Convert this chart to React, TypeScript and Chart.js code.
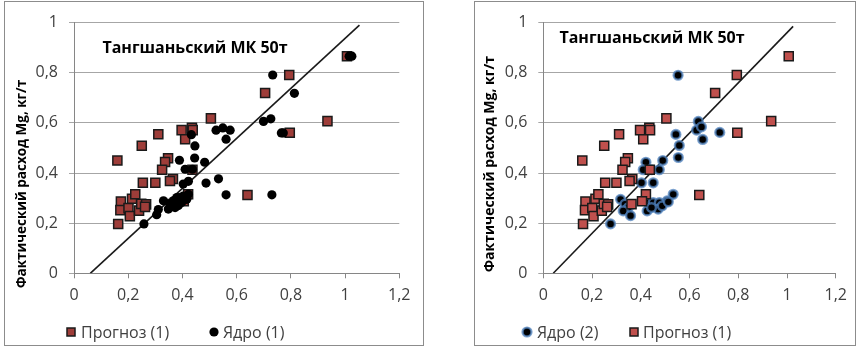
import React, { useEffect, useRef } from 'react';
import { Chart, registerables } from 'chart.js';

Chart.register(...registerables);

// ---------- text ----------
const chartTitle = 'Тангшаньский МК 50т';
const yAxisTitle = 'Фактический расход Mg, кг/т';
const xTickLabels = ['0', '0,2', '0,4', '0,6', '0,8', '1', '1,2'];
const yTickLabels = ['0', '0,2', '0,4', '0,6', '0,8', '1'];

// ---------- series: Прогноз (1) (same on both panels) ----------
const forecastLabel = 'Прогноз (1)';
const forecastX = [0.160, 0.250, 0.311, 0.397, 0.435, 0.438, 0.410, 0.505, 0.705, 0.794, 1.007, 0.935, 0.796, 0.640, 0.347, 0.336, 0.325, 0.254, 0.300, 0.365, 0.354, 0.437, 0.421, 0.405, 0.362, 0.163, 0.173, 0.171, 0.201, 0.206, 0.214, 0.226, 0.240, 0.248, 0.266, 0.262];
const forecastY = [0.450, 0.509, 0.555, 0.571, 0.580, 0.571, 0.535, 0.618, 0.719, 0.791, 0.866, 0.607, 0.561, 0.312, 0.459, 0.444, 0.413, 0.361, 0.361, 0.376, 0.368, 0.413, 0.315, 0.287, 0.276, 0.197, 0.286, 0.252, 0.260, 0.228, 0.297, 0.315, 0.250, 0.277, 0.275, 0.265];

// ---------- series: Ядро (1) (left panel) ----------
const core1Label = 'Ядро (1)';
const core1X = [0.733, 0.813, 1.015, 1.025, 0.699, 0.726, 0.772, 0.765, 0.730, 0.561, 0.533, 0.487, 0.482, 0.524, 0.549, 0.576, 0.561, 0.446, 0.433, 0.445, 0.389, 0.410, 0.437, 0.403, 0.422, 0.422, 0.258, 0.305, 0.311, 0.330, 0.348, 0.354, 0.366, 0.373, 0.379, 0.391, 0.397, 0.403, 0.416, 0.360, 0.385];
const core1Y = [0.791, 0.718, 0.866, 0.866, 0.606, 0.616, 0.560, 0.560, 0.313, 0.313, 0.377, 0.360, 0.443, 0.571, 0.580, 0.571, 0.535, 0.508, 0.553, 0.460, 0.451, 0.415, 0.415, 0.356, 0.367, 0.315, 0.197, 0.234, 0.254, 0.289, 0.256, 0.276, 0.289, 0.262, 0.302, 0.302, 0.282, 0.308, 0.295, 0.265, 0.270];

// ---------- series: Ядро (2) (right panel) ----------
const core2Label = 'Ядро (2)';
const core2X = [0.553, 0.636, 0.629, 0.649, 0.654, 0.724, 0.544, 0.558, 0.554, 0.490, 0.421, 0.410, 0.444, 0.476, 0.403, 0.451, 0.317, 0.335, 0.349, 0.328, 0.358, 0.276, 0.430, 0.451, 0.476, 0.508, 0.426, 0.471, 0.444, 0.488, 0.533, 0.513];
const core2Y = [0.790, 0.606, 0.571, 0.584, 0.534, 0.562, 0.554, 0.510, 0.462, 0.450, 0.443, 0.413, 0.413, 0.413, 0.361, 0.361, 0.295, 0.276, 0.262, 0.249, 0.230, 0.197, 0.282, 0.282, 0.282, 0.289, 0.249, 0.256, 0.262, 0.269, 0.315, 0.285];

// ---------- diagonal reference lines ----------
const fitLine1X = [0.06, 1.053];
const fitLine1Y = [0, 0.99];
const fitLine2X = [0.041, 1.025];
const fitLine2Y = [0, 0.985];

const toPoints = (xs: number[], ys: number[]) => xs.map((x, i) => ({ x, y: ys[i] }));

const FONT = '"Open Sans", "DejaVu Sans", sans-serif';
const TEXT = '#404040';

const decorPlugin = {
  id: 'decor',
  afterDraw(chart: any, _args: any, opts: any) {
    const ctx = chart.ctx as CanvasRenderingContext2D;
    ctx.save();
    ctx.fillStyle = '#000';
    ctx.textAlign = 'center';
    ctx.textBaseline = 'middle';
    ctx.font = `bold ${opts.titleSize}px ${FONT}`;
    ctx.fillText(opts.title, opts.titleX, opts.titleY);

    ctx.save();
    ctx.translate(opts.yTitleX, opts.yTitleY);
    ctx.rotate(-Math.PI / 2);
    ctx.font = `bold ${opts.yTitleSize}px ${FONT}`;
    ctx.fillText(opts.yTitle, 0, 0);
    ctx.restore();

    ctx.font = `16px ${FONT}`;
    ctx.textAlign = 'left';
    for (const item of opts.legend) {
      const ds = chart.data.datasets[item.datasetIndex];
      const y = opts.legendY;
      ctx.fillStyle = ds.backgroundColor;
      ctx.strokeStyle = ds.borderColor;
      ctx.lineWidth = ds.borderWidth;
      if (ds.pointStyle === 'rect') {
        const s = 8;
        ctx.fillRect(item.x - s / 2, y - s / 2, s, s);
        ctx.strokeRect(item.x - s / 2, y - s / 2, s, s);
      } else {
        ctx.beginPath();
        ctx.arc(item.x, y, ds.pointRadius, 0, Math.PI * 2);
        ctx.fill();
        if (ds.borderWidth) ctx.stroke();
      }
      ctx.fillStyle = TEXT;
      ctx.fillText(ds.label, item.textX, y + 1);
    }
    ctx.restore();
  },
};

type PanelProps = {
  left: number;
  width: number;
  datasets: any[];
  yAxisWidth: number;
  padRight: number;
  decor: any;
};

function Panel({ left, width, datasets, yAxisWidth, padRight, decor }: PanelProps) {
  const ref = useRef<HTMLCanvasElement | null>(null);
  const cw = width - 2;
  const ch = 343;
  useEffect(() => {
    if (!ref.current) return;
    const chart = new Chart(ref.current, {
      type: 'scatter',
      data: { datasets },
      options: {
        animation: false,
        responsive: false,
        devicePixelRatio: 1,
        events: [],
        layout: { padding: { left: 0, right: padRight, top: 17.3, bottom: ch - 271.3 - 40 } },
        plugins: {
          legend: { display: false },
          tooltip: { enabled: false },
          title: { display: false },
          decor,
        } as any,
        scales: {
          x: {
            type: 'linear',
            min: 0,
            max: 1.2,
            afterFit: (s: any) => { s.height = 40; },
            ticks: {
              stepSize: 0.2,
              autoSkip: false,
              maxRotation: 0,
              padding: 8,
              color: TEXT,
              font: { family: FONT, size: 16 },
              callback: (_v: any, i: number) => xTickLabels[i],
            },
            grid: { drawOnChartArea: false, drawTicks: true, tickLength: 5, color: '#868686' },
            border: { color: '#868686' },
          },
          y: {
            type: 'linear',
            min: 0,
            max: 1,
            afterFit: (s: any) => { s.width = yAxisWidth; },
            ticks: {
              stepSize: 0.2,
              padding: 11,
              color: TEXT,
              font: { family: FONT, size: 16 },
              callback: (_v: any, i: number) => yTickLabels[i],
            },
            grid: { drawTicks: true, tickLength: 5, color: '#a6a6a6' },
            border: { color: '#868686' },
          },
        },
      },
      plugins: [decorPlugin],
    } as any);
    return () => chart.destroy();
  }, []);
  return (
    <div
      style={{
        position: 'absolute',
        left,
        top: 1,
        width,
        height: 345,
        border: '1px solid #8c8c8c',
        boxSizing: 'border-box',
        background: '#fff',
      }}
    >
      <canvas ref={ref} width={cw} height={ch} style={{ display: 'block', width: cw, height: ch }} />
    </div>
  );
}

const lineDs = (xs: number[], ys: number[]) => ({
  label: 'line',
  data: toPoints(xs, ys),
  showLine: true,
  pointRadius: 0,
  borderColor: '#1a1a1a',
  borderWidth: 1.6,
  backgroundColor: '#1a1a1a',
});

export default function App() {
  const leftDatasets = [
    {
      label: core1Label,
      data: toPoints(core1X, core1Y),
      pointStyle: 'circle',
      pointRadius: 4.6,
      backgroundColor: '#000000',
      borderColor: '#000000',
      borderWidth: 0,
    },
    {
      label: forecastLabel,
      data: toPoints(forecastX, forecastY),
      pointStyle: 'rect',
      pointRadius: 6.4,
      backgroundColor: '#9e3d39',
      borderColor: '#1a1a1a',
      borderWidth: 1.5,
    },
    lineDs(fitLine1X, fitLine1Y),
  ];
  const rightDatasets = [
    {
      label: forecastLabel,
      data: toPoints(forecastX, forecastY),
      pointStyle: 'rect',
      pointRadius: 6.4,
      backgroundColor: '#c0504d',
      borderColor: '#1a1a1a',
      borderWidth: 1.5,
    },
    {
      label: core2Label,
      data: toPoints(core2X, core2Y),
      pointStyle: 'circle',
      pointRadius: 4.4,
      backgroundColor: '#000000',
      borderColor: 'rgba(79,129,189,0.75)',
      borderWidth: 2.4,
    },
    lineDs(fitLine2X, fitLine2Y),
  ];
  return (
    <div style={{ position: 'absolute', left: 0, top: 0, width: 857, height: 347 }}>
      <Panel
        left={4}
        width={420}
        datasets={leftDatasets}
        yAxisWidth={69}
        padRight={23.7}
        decor={{
          title: chartTitle,
          titleSize: 16,
          titleX: 190,
          titleY: 46,
          yTitle: yAxisTitle,
          yTitleSize: 13.5,
          yTitleX: 17,
          yTitleY: 182,
          legendY: 330,
          legend: [
            { datasetIndex: 1, x: 66, textX: 76 },
            { datasetIndex: 0, x: 209, textX: 218 },
          ],
        }}
      />
      <Panel
        left={474}
        width={382}
        datasets={rightDatasets}
        yAxisWidth={68.3}
        padRight={19}
        decor={{
          title: chartTitle,
          titleSize: 16,
          titleX: 177,
          titleY: 36,
          yTitle: yAxisTitle,
          yTitleSize: 14,
          yTitleX: 15,
          yTitleY: 162,
          legendY: 330,
          legend: [
            { datasetIndex: 1, x: 52, textX: 62 },
            { datasetIndex: 0, x: 159, textX: 168 },
          ],
        }}
      />
    </div>
  );
}
